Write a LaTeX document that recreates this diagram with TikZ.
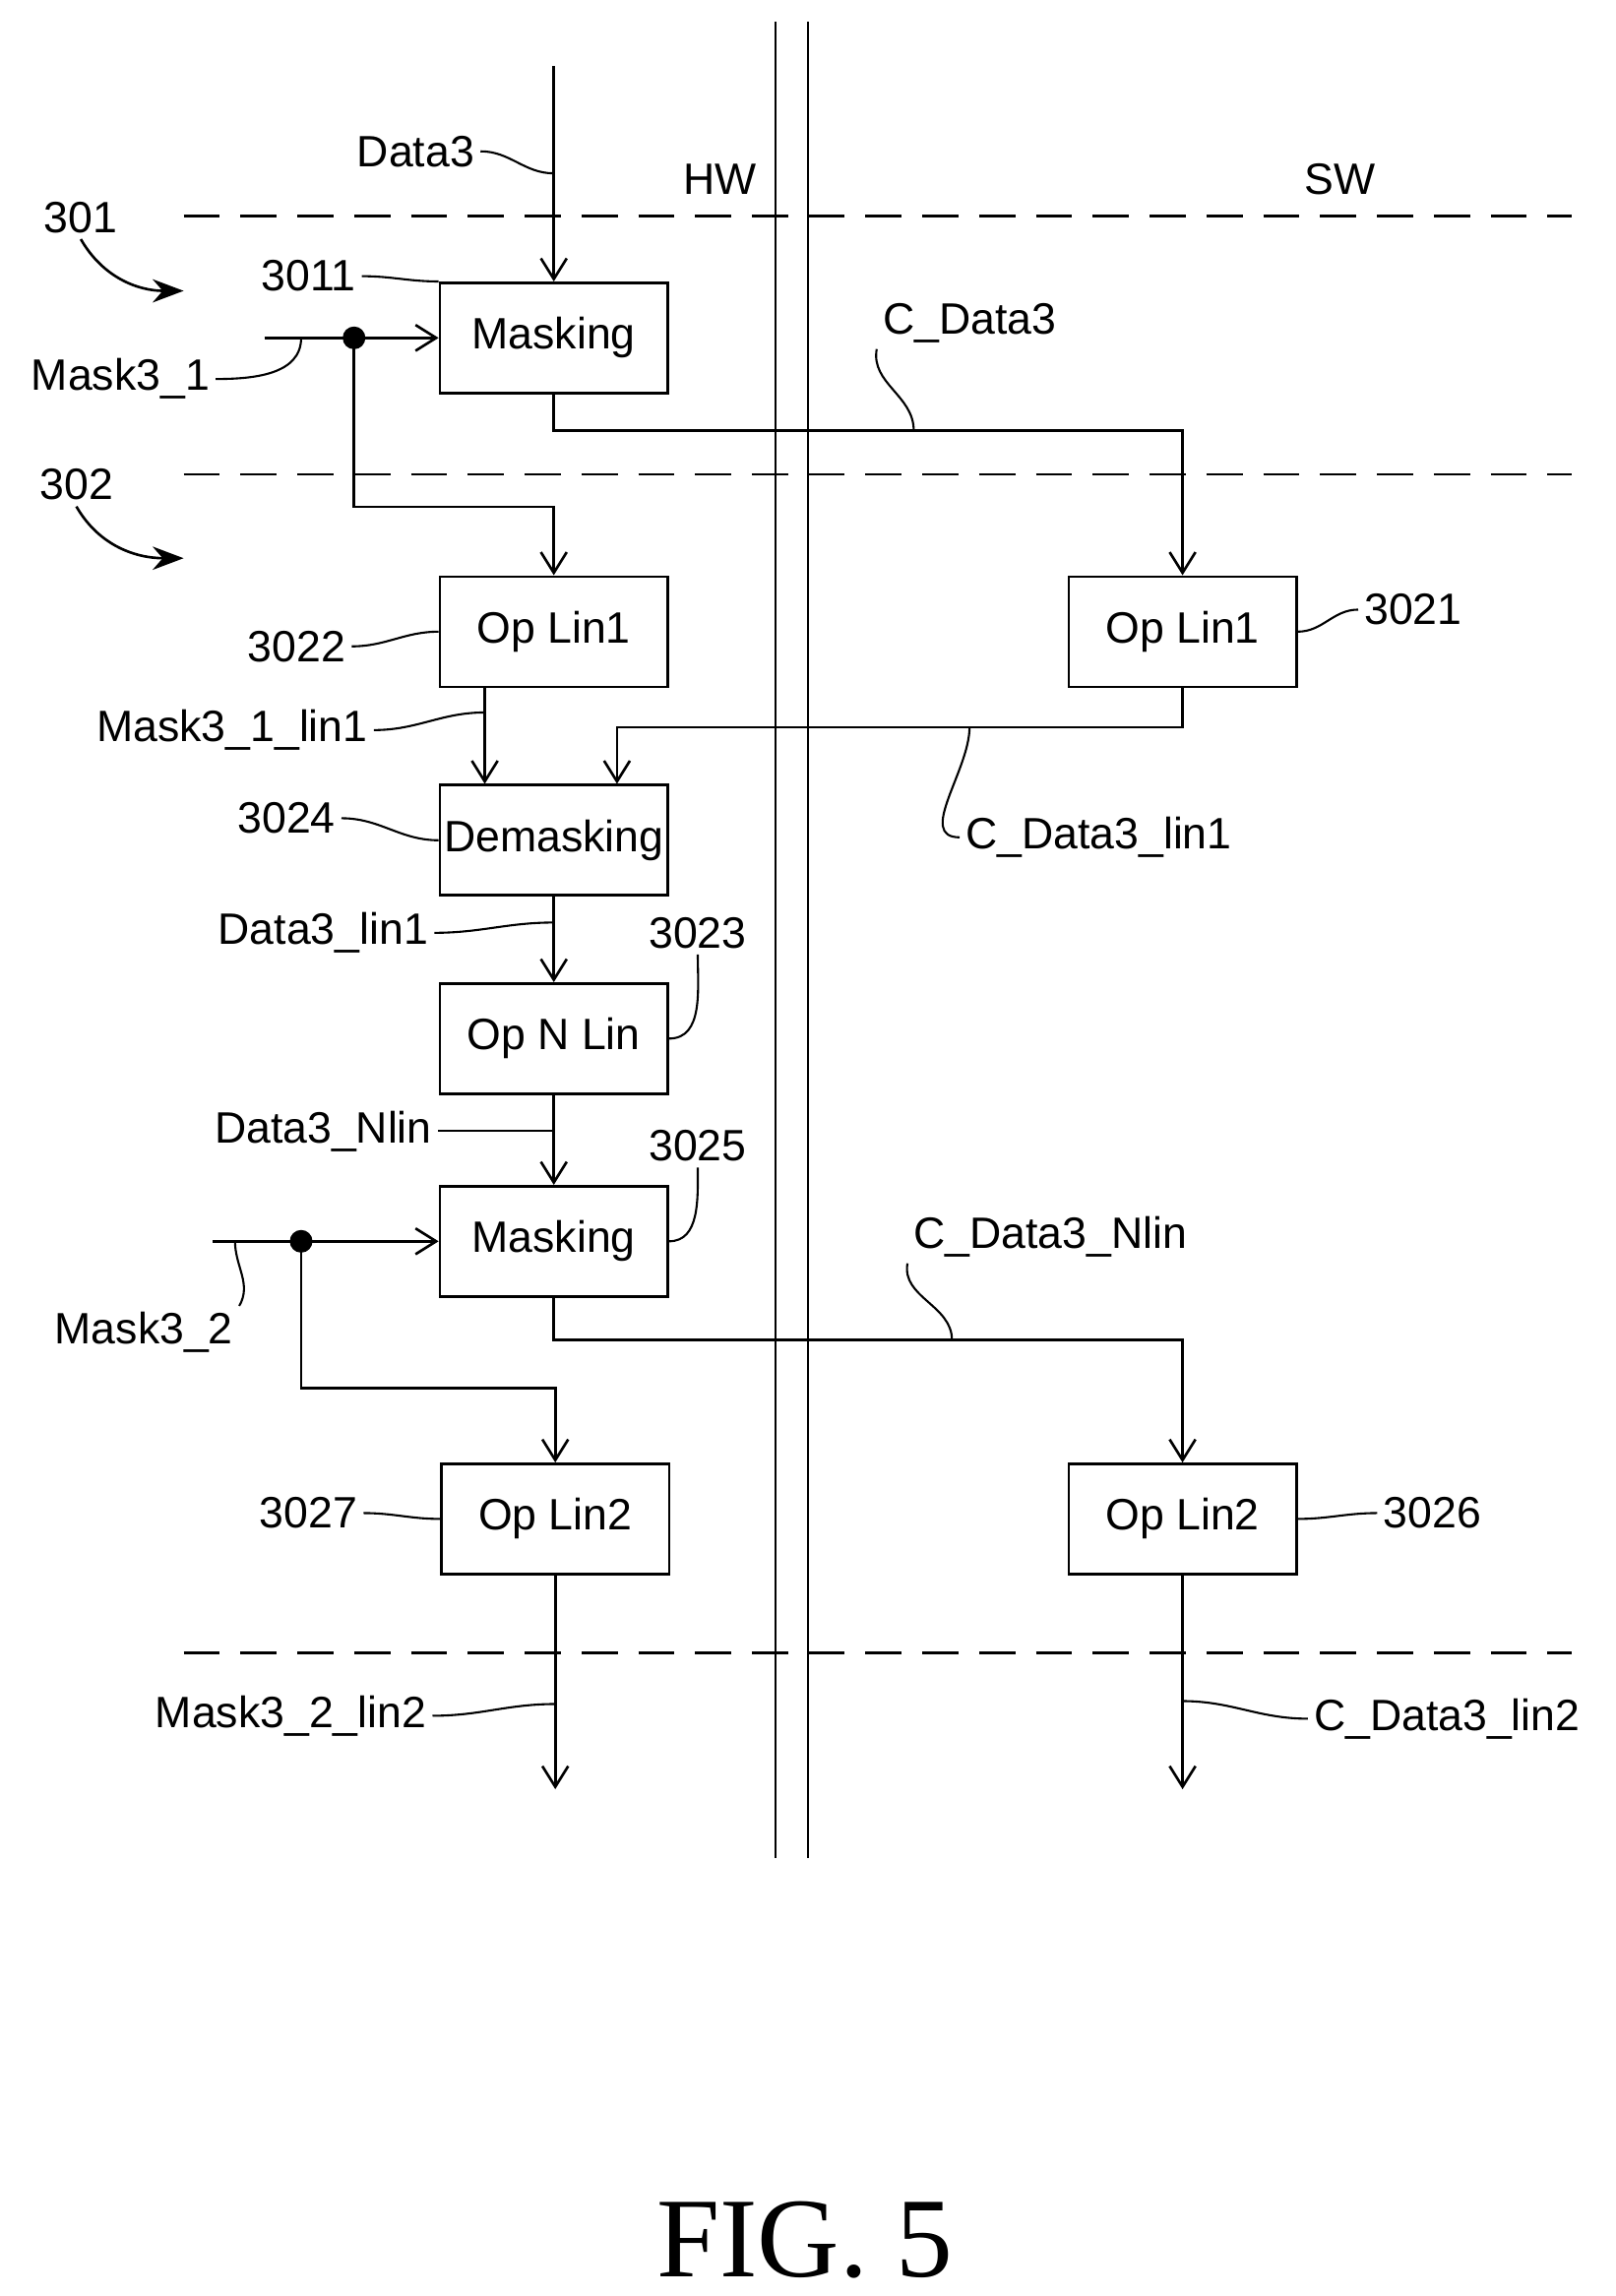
\documentclass[tikz,border=0pt]{standalone}
\usepackage{fontspec}
\setmainfont{Liberation Sans}
\usetikzlibrary{arrows.meta,positioning}

\tikzset{
  blk/.style={draw,line width=0.5pt,minimum width=1.55cm,minimum height=0.75cm,inner sep=0pt},
  flow/.style={line width=0.5pt,-{Straight Barb[length=4pt,width=5pt]}},
  wire/.style={line width=0.5pt},
  lead/.style={line width=0.4pt},
  sep/.style={line width=0.5pt,dash pattern=on 7pt off 4pt},
  lbl/.style={inner sep=1pt}
}

\begin{document}
\begin{tikzpicture}[x=0.01cm,y=-0.01cm,font=\fontsize{8.5}{10}\selectfont]
    \useasboundingbox (0,0) rectangle (1100,1563);
    % HW / SW border
    \draw[wire] (528,15) -- (528,1265);
    \draw[wire] (550,15) -- (550,1265);
    \foreach \yy in {147,323,1125}
        \draw[sep] (125,\yy) -- (1070,\yy);
    \node[lbl] (hw) at (490,122) {HW};
    \node[lbl] (sw) at (912,122) {SW};

    % blocks
    \node[blk] (mask1) at (377,230) {Masking};
    \node[blk] (hlin1) at (377,430) {Op Lin1};
    \node[blk] (slin1) at (805,430) {Op Lin1};
    \node[blk] (demask) at (377,572) {Demasking};
    \node[blk] (nlin) at (377,707) {Op N Lin};
    \node[blk] (mask2) at (377,845) {Masking};
    \node[blk] (hlin2) at (378,1034) {Op Lin2};
    \node[blk] (slin2) at (805,1034) {Op Lin2};

    % inputs
    \coordinate (din) at (377,45);
    \coordinate (m1in) at (180,230);
    \coordinate (m2in) at (145,845);
    \coordinate (dot1) at (241,230);
    \coordinate (dot2) at (205,845);
    \draw[flow] (din) -- (mask1);
    \draw[flow] (m1in) -- (mask1);
    \draw[flow] (m2in) -- (mask2);
    \fill (dot1) circle (2.2pt);
    \fill (dot2) circle (2.2pt);

    % connections
    \draw[flow] (mask1.south) |- (805,293) -- (slin1.north);
    \draw[flow] (dot1) |- (377,345) -- (hlin1.north);
    \draw[flow] (hlin1.south -| 330,0) -- (demask.north -| 330,0);
    \draw[flow] (slin1.south) |- (420,495) -- (demask.north -| 420,0);
    \draw[flow] (demask) -- (nlin);
    \draw[flow] (nlin) -- (mask2);
    \draw[flow] (mask2.south) |- (805,912) -- (slin2.north);
    \draw[flow] (dot2) |- (378,945) -- (hlin2.north);
    \coordinate (hout) at (378,1218);
    \coordinate (sout) at (805,1218);
    \draw[flow] (hlin2) -- (hout);
    \draw[flow] (slin2) -- (sout);

    % labels with leaders
    \node[lbl] (ldata) at (283,103) {Data3};
    \draw[lead] (ldata.east) to[out=0,in=180] (377,118);
    \node[lbl] (l3011) at (210,188) {3011};
    \draw[lead] (l3011.east) to[out=0,in=180] (mask1.north west);
    \node[lbl] (lm31) at (82,258) {Mask3\_1};
    \draw[lead] (lm31.east) to[out=0,in=270] (205,230);
    \node[lbl] (lcd3) at (660,220) {C\_Data3};
    \draw[lead] (lcd3.south west) to[out=-100,in=90] (622,293);
    \node[lbl] (l3022) at (202,440) {3022};
    \draw[lead] (l3022.east) to[out=0,in=180] (hlin1.west);
    \node[lbl] (l3021) at (962,415) {3021};
    \draw[lead] (l3021.west) to[out=180,in=0] (slin1.east);
    \node[lbl] (lml1) at (158,497) {Mask3\_1\_lin1};
    \draw[lead] (lml1.east) to[out=0,in=180] (330,485);
    \node[lbl] (lcdl1) at (748,570) {C\_Data3\_lin1};
    \draw[lead] (lcdl1.west) to[out=180,in=-90] (660,495);
    \node[lbl] (l3024) at (195,557) {3024};
    \draw[lead] (l3024.east) to[out=0,in=180] (demask.west);
    \node[lbl] (ldl1) at (220,635) {Data3\_lin1};
    \draw[lead] (ldl1.east) to[out=0,in=180] (377,628);
    \node[lbl] (l3023) at (475,635) {3023};
    \draw[lead] (l3023.south) to[out=-90,in=0] (nlin.east);
    \node[lbl] (ldnl) at (220,770) {Data3\_Nlin};
    \draw[lead] (ldnl.east) to[out=0,in=180] (377,770);
    \node[lbl] (l3025) at (475,780) {3025};
    \draw[lead] (l3025.south) to[out=-90,in=0] (mask2.east);
    \node[lbl] (lm32) at (98,907) {Mask3\_2};
    \draw[lead] (lm32.north east) to[out=60,in=-90] (160,845);
    \node[lbl] (lcdn) at (715,842) {C\_Data3\_Nlin};
    \draw[lead] (lcdn.south west) to[out=-100,in=90] (648,912);
    \node[lbl] (l3027) at (210,1030) {3027};
    \draw[lead] (l3027.east) to[out=0,in=180] (hlin2.west);
    \node[lbl] (l3026) at (975,1030) {3026};
    \draw[lead] (l3026.west) to[out=180,in=0] (slin2.east);
    \node[lbl] (lml2) at (198,1168) {Mask3\_2\_lin2};
    \draw[lead] (lml2.east) to[out=0,in=180] (378,1160);
    \node[lbl] (lcdl2) at (985,1170) {C\_Data3\_lin2};
    \draw[lead] (lcdl2.west) to[out=180,in=0] (805,1158);

    % phase markers
    \node[lbl] (l301) at (55,148) {301};
    \coordinate (a301) at (125,198);
    \draw[flow,-{Stealth[length=6pt]}] (l301.south) to[out=-60,in=180] (a301);
    \node[lbl] (l302) at (52,330) {302};
    \coordinate (a302) at (125,380);
    \draw[flow,-{Stealth[length=6pt]}] (l302.south) to[out=-60,in=180] (a302);

    \node (fig) at (548,1525) {\fontsize{22}{24}\selectfont\itshape\setmainfont{Liberation Serif}FIG. 5};
\end{tikzpicture}
\end{document}
